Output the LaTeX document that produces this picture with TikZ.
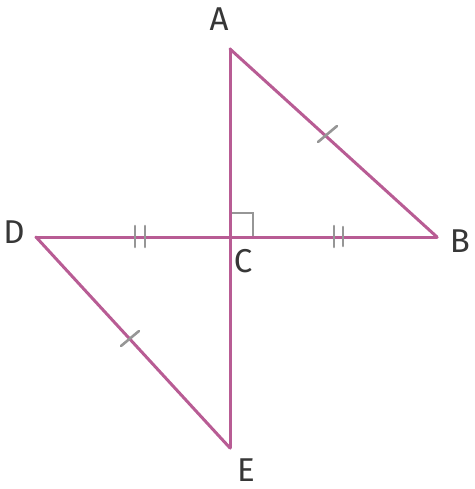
\documentclass[tikz,border=0pt]{standalone}
\usepackage{fontspec}
\setmainfont{Fira Sans}
\definecolor{seg}{RGB}{184,92,148}
\definecolor{tick}{RGB}{150,150,150}
\definecolor{lab}{RGB}{55,55,55}
\begin{document}
\begin{tikzpicture}[x=1pt,y=-1pt,
  segline/.style={seg,line width=3pt,line cap=round},
  tickline/.style={tick,line width=2.6pt,line cap=round},
  ptlabel/.style={lab,inner sep=0pt,font=\fontsize{33}{33}\selectfont}]
\useasboundingbox (0,0) rectangle (474,489);
\coordinate (A) at (230,49);
\coordinate (B) at (437,237);
\coordinate (C) at (230,237);
\coordinate (D) at (36,237);
\coordinate (E) at (230,448);
% right angle
\coordinate (r1) at (230,213);
\coordinate (r2) at (253,213);
\coordinate (r3) at (253,237);
\draw[tick,line width=2.4pt] (r1) -- (r2) -- (r3);
% segments
\draw[segline] (A) -- (E);
\draw[segline] (D) -- (B);
\draw[segline] (A) -- (B);
\draw[segline] (D) -- (E);
% double ticks
\coordinate (t1a) at (135,226); \coordinate (t1b) at (135,247);
\coordinate (t2a) at (145,226); \coordinate (t2b) at (145,247);
\coordinate (t3a) at (334,226); \coordinate (t3b) at (334,247);
\coordinate (t4a) at (343,227); \coordinate (t4b) at (343,246);
\draw[tickline] (t1a) -- (t1b);
\draw[tickline] (t2a) -- (t2b);
\draw[tickline] (t3a) -- (t3b);
\draw[tickline] (t4a) -- (t4b);
% single ticks
\coordinate (s1a) at (318,142); \coordinate (s1b) at (337,126);
\coordinate (s2a) at (121,346); \coordinate (s2b) at (139,331);
\draw[tickline] (s1a) -- (s1b);
\draw[tickline] (s2a) -- (s2b);
% labels
\node[ptlabel] (lA) at (219,19) {A};
\node[ptlabel] (lB) at (460,241) {B};
\node[ptlabel] (lC) at (243,261) {C};
\node[ptlabel] (lD) at (14,232) {D};
\node[ptlabel] (lE) at (246,470) {E};
\end{tikzpicture}
\end{document}
